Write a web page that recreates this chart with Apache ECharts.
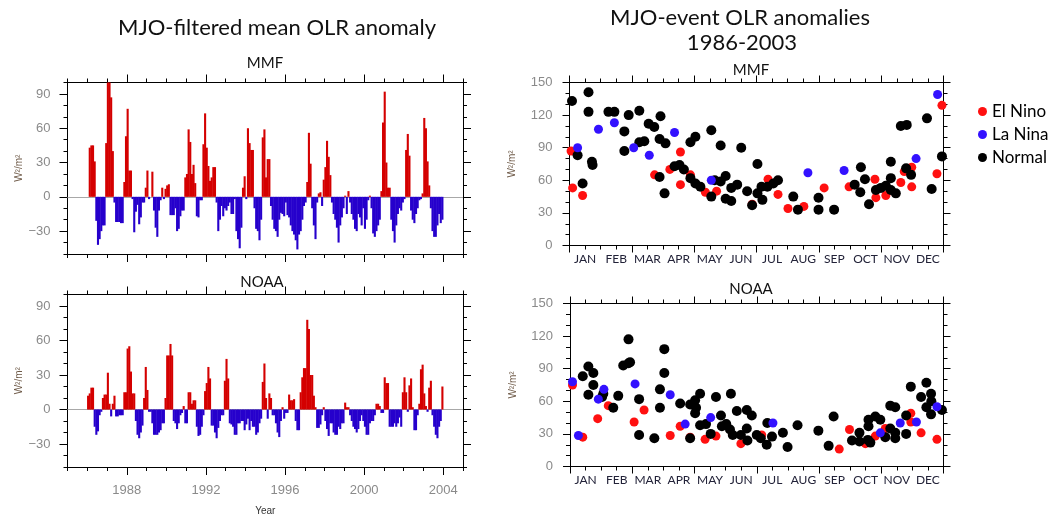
<!DOCTYPE html>
<html><head><meta charset="utf-8">
<script src="https://cdn.jsdelivr.net/npm/echarts@6/dist/echarts.min.js"></script>
<style>html,body{margin:0;padding:0;background:#fff}#c{width:1051px;height:518px}</style>
</head><body><div id="c"></div>
<script>
// ---- data: monthly MJO-filtered mean OLR anomaly, Jan 1986 .. Dec 2003 ----
const mmfMonthly = [
  0, 43, 45, 45, 31, -21, -42, -37, -30, -25, -25, 47,
  100, 100, 87, 40, -5, -22, -22, -22, -23, -23, 13, 53,
  77, 23, 23, -2, -31, -13, -7, -24, -18, -5, -5, 8,
  23, -2, 0, 22, -12, -27, -35, -12, -3, 8, -2, 7,
  10, 11, -16, -16, -16, -10, -30, -28, -17, -12, -12, 17,
  20, 59, 48, 20, 28, 12, -17, -18, -3, -3, 46, 73,
  43, 27, 14, 17, 26, 26, -5, -30, -20, -8, -17, -10,
  -12, -8, -5, -15, -15, -2, -30, -37, -45, -27, 8, 18,
  -2, 60, 47, 41, 41, -10, -28, -30, -38, -20, 52, 59,
  17, 33, 33, -8, -20, -28, -30, -35, -20, -14, -15, -17,
  -5, -16, -18, -25, -30, -33, -38, -46, -33, -30, -20, -8,
  -5, 13, 56, 29, -10, -25, -37, -5, 3, 4, -8, 15,
  26, 49, 35, 19, -5, -15, -20, -27, -40, -25, -18, -10,
  1, -15, 5, -5, -15, -20, -28, -30, -15, -18, -25, -10,
  -28, -20, -3, 1, -10, -32, -35, -30, -25, -20, 5, 65,
  92, 30, 8, 8, -20, -30, -40, -25, -15, -10, -12, -5,
  -2, 41, 55, 36, -12, -20, -23, -15, -10, -3, -2, 3,
  69, 60, 31, 10, -10, -30, -35, -35, -25, -15, -23, -20
];
const noaaMonthly = [
  12, 14, 19, 19, -15, -22, -19, -5, -2, 10, 13, 13,
  32, 5, -6, 5, 12, -6, -6, -5, -5, -5, 15, 15,
  53, 55, 33, 14, 14, -10, -22, -25, -20, -14, 10, 37,
  17, -2, -2, -12, -22, -22, -22, -20, -18, -12, -12, 10,
  47, 47, 57, 47, -10, -12, -17, -12, -5, -3, 3, -12,
  -12, 15, 15, 5, 8, 8, -15, -23, -22, -15, -5, 16,
  23, 37, 27, -14, -14, -20, -25, -16, -10, -5, -5, 25,
  44, 27, -12, -13, -15, -22, -22, -12, -12, -10, -10, -18,
  -13, -8, -18, -10, -15, -15, -22, -20, -12, -8, 24, 40,
  10, -8, 14, 10, -5, -5, -12, -20, -24, -10, 2, -8,
  -3, -3, 13, 8, 8, 9, -10, -18, -18, 15, 28, 36,
  36, 78, 70, 30, 30, 12, 2, -16, -16, -13, -5, 2,
  -10, -17, -23, -12, -12, -20, -22, -22, -15, -17, -12, -12,
  6, 2, 2, -5, -10, -15, -17, -20, -17, -10, -5, -10,
  -15, -22, -22, -12, -10, -10, -5, 5, 5, 3, -3, -3,
  28, 23, 23, -15, -15, -15, -12, -15, -12, -7, -15, 15,
  28, 15, -2, 21, 27, 2, -18, -18, -5, 5, 35, 39,
  14, 3, -2, 19, 25, -5, -15, -22, -25, -15, -10, 20
];
const firstYear = 1986;
const yearTickLabels = [1988, 1992, 1996, 2000, 2004];
const anomTickLabels = [-30, 0, 30, 60, 90];
const monthLabels = ['JAN','FEB','MAR','APR','MAY','JUN','JUL','AUG','SEP','OCT','NOV','DEC'];

// ---- data: MJO events, [month of year (0-12), OLR anomaly] ----
const mmfElNino = [[0.05,87],[0.1,53],[0.42,46],[2.73,65],[3.22,70],[3.56,86],[3.56,56],[3.88,65],[4.36,49],[4.72,50],[5.86,38],[6.37,61],[6.69,47],[7.01,34],[7.52,36],[8.17,53],[8.97,54],[9.8,61],[9.83,44],[10.15,46],[10.63,58],[10.74,68],[10.98,72],[10.98,54],[11.79,66],[11.95,129]];
const mmfLaNina = [[0.26,90],[0.93,107],[1.44,113],[2.06,90],[2.56,83],[3.37,104],[4.55,60],[7.65,67],[8.81,69],[11.12,80],[11.81,139]];
const mmfNormal = [[0.08,133],[0.61,141],[0.61,123],[0.26,83],[0.42,57],[0.72,77],[0.74,74],[1.25,123],[1.44,123],[1.76,105],[1.76,87],[1.9,120],[2.24,124],[2.24,95],[2.4,96],[2.54,112],[2.72,109],[2.92,119],[2.89,98],[3.08,94],[2.89,63],[3.05,48],[3.37,73],[3.53,74],[3.67,70],[3.88,95],[4.04,100],[3.88,62],[4.04,57],[4.2,54],[4.55,106],[4.85,92],[5.51,90],[6.03,75],[5.01,64],[4.85,59],[4.66,60],[4.55,45],[5.01,43],[5.19,41],[5.19,53],[5.38,56],[5.7,50],[5.86,37],[6.03,48],[6.16,54],[6.19,42],[6.35,54],[6.54,57],[6.69,60],[7.18,45],[7.33,33],[7.99,44],[7.99,33],[8.49,33],[9.35,72],[9.48,61],[9.15,56],[9.33,49],[9.61,38],[9.83,51],[9.99,53],[10.15,55],[10.31,62],[10.31,77],[10.31,51],[10.47,48],[10.63,110],[10.82,111],[10.8,71],[10.96,65],[11.47,117],[11.62,52],[11.95,82]];
const noaaElNino = [[0.08,75],[0.41,27],[0.89,44],[1.23,56],[2.06,41],[2.38,52],[3.22,28.5],[3.54,37],[3.86,27],[4.34,25],[4.69,28],[5.49,21],[6.16,29],[8.65,16],[8.98,34],[9.49,21],[9.81,28],[10.13,35],[10.95,49],[10.95,41],[11.28,31],[11.79,25]];
const noaaLaNina = [[0.08,78],[0.27,28.5],[0.91,62],[1.09,71],[2.09,76],[3.22,66],[3.7,39],[4.52,45],[6.52,40],[9.97,31],[10.61,40],[11.13,41],[11.79,55]];
const noaaNormal = [[0.41,83],[0.59,92],[0.59,66],[0.75,86],[0.75,75],[1.07,67],[1.03,64],[1.39,54],[1.55,65],[1.71,93],[1.88,95],[1.88,117],[1.93,96],[2.22,62],[2.22,29],[2.71,26],[2.89,54],[2.89,71],[3.03,108],[3.03,86],[3.54,58],[3.86,26],[4.02,61],[4.02,49],[3.86,57],[4.18,67],[4.18,38],[4.05,54],[4.37,39],[4.52,30],[4.69,64],[4.85,47],[4.88,37],[5.02,39],[5.17,67],[5.14,34],[5.23,29],[5.36,51],[5.49,29],[5.68,52],[5.84,47],[5.68,35],[5.7,24],[6.0,29],[6.13,26],[6.32,20],[6.34,40],[6.49,27.5],[6.84,31],[6.99,18],[7.31,38],[7.98,33],[8.47,46],[8.31,19],[9.06,24],[9.3,31],[9.3,23],[9.59,43],[9.59,37],[9.57,24.5],[9.65,22],[9.81,46],[9.97,43],[10.13,27],[10.29,35],[10.45,31],[10.45,26],[10.29,56],[10.45,54.5],[10.8,47],[10.8,30],[10.95,73.5],[11.28,64],[11.45,77],[11.45,54.5],[11.6,67],[11.61,60],[11.6,48],[11.95,52]];

// ---- styling ----
const TITLE_FONT = 'Lato, "Open Sans", sans-serif';
const NUM_FONT = '"Liberation Sans", Arial, sans-serif';
const BLACK = '#000';
const LABEL_GRAY = '#8a8a8a';
const BAR_RED = '#d40000', BAR_BLUE = '#2600cc';
const DOT_RED = '#ff1010', DOT_BLUE = '#3311ff', DOT_BLACK = '#000';

const grids = [
  {left: 67.5, top: 82.5, width: 395.5, height: 171.5},
  {left: 67.5, top: 294.5, width: 395.5, height: 172.5},
  {left: 569.5, top: 82.5, width: 374, height: 163},
  {left: 570, top: 303.5, width: 373.5, height: 163}
];

const xAxes = [], yAxes = [];
const tickLine = {lineStyle: {color: BLACK, width: 1}};
function addX(o){ xAxes.push(Object.assign({splitLine:{show:false}}, o)); return xAxes.length - 1; }
function addY(o){ yAxes.push(Object.assign({splitLine:{show:false}}, o)); return yAxes.length - 1; }

const leftIdx = [];
[0, 1].forEach(g => {
  const bottomLabels = g === 1;
  const xi = addX({gridIndex: g, type: 'value', min: 1985, max: 2005, interval: 1, position: 'bottom',
    axisLine: {show: true, onZero: false, lineStyle: {color: BLACK, width: 1}},
    axisTick: Object.assign({length: 4}, tickLine),
    axisLabel: {show: bottomLabels, formatter: v => (yearTickLabels.indexOf(v) >= 0 ? String(v) : ''),
      margin: 17, color: LABEL_GRAY, fontSize: 13, fontFamily: NUM_FONT},
    name: bottomLabels ? 'Year' : '', nameLocation: 'middle', nameGap: 39,
    nameTextStyle: {fontSize: 10, color: '#333', fontFamily: NUM_FONT}});
  addX({gridIndex: g, type: 'value', min: 1985, max: 2005, position: 'bottom',
    axisLine: {show: false, onZero: false}, axisTick: Object.assign({length: 8, customValues: yearTickLabels}, tickLine),
    axisLabel: {show: false}});
  addX({gridIndex: g, type: 'value', min: 1985, max: 2005, interval: 1, position: 'top',
    axisLine: {show: true, onZero: false, lineStyle: {color: BLACK, width: 1}},
    axisTick: Object.assign({length: 4}, tickLine), axisLabel: {show: false}});
  addX({gridIndex: g, type: 'value', min: 1985, max: 2005, position: 'top',
    axisLine: {show: false, onZero: false}, axisTick: Object.assign({length: 8, customValues: yearTickLabels}, tickLine),
    axisLabel: {show: false}});
  const yi = addY({gridIndex: g, type: 'value', min: -50, max: 100, interval: 10, position: 'left',
    axisLine: {show: true, onZero: false, lineStyle: {color: BLACK, width: 1}},
    axisTick: Object.assign({length: 4}, tickLine),
    axisLabel: {formatter: v => (anomTickLabels.indexOf(v) >= 0 ? String(v).replace('-', '\u2212') : ''),
      margin: 17, color: LABEL_GRAY, fontSize: 13, fontFamily: NUM_FONT},
    name: 'W\u00b2/m\u00b2', nameLocation: 'middle', nameGap: 38,
    nameTextStyle: {fontSize: 10, color: '#6e5a48', fontFamily: NUM_FONT}});
  addY({gridIndex: g, type: 'value', min: -50, max: 100, position: 'left',
    axisLine: {show: false, onZero: false}, axisTick: Object.assign({length: 8, customValues: anomTickLabels}, tickLine),
    axisLabel: {show: false}});
  addY({gridIndex: g, type: 'value', min: -50, max: 100, interval: 10, position: 'right',
    axisLine: {show: true, onZero: false, lineStyle: {color: BLACK, width: 1}},
    axisTick: Object.assign({length: 4}, tickLine), axisLabel: {show: false}});
  addY({gridIndex: g, type: 'value', min: -50, max: 100, position: 'right',
    axisLine: {show: false, onZero: false}, axisTick: Object.assign({length: 8, customValues: anomTickLabels}, tickLine),
    axisLabel: {show: false}});
  leftIdx.push([xi, yi]);
});

const rightIdx = [];
[2, 3].forEach(g => {
  const xi = addX({gridIndex: g, type: 'value', min: 0, max: 12, interval: 2, position: 'bottom',
    axisLine: {show: true, onZero: false, lineStyle: {color: BLACK, width: 1}},
    axisTick: Object.assign({length: 7}, tickLine),
    minorTick: {show: true, splitNumber: 4, length: 4, lineStyle: {color: BLACK, width: 1}},
    axisLabel: {show: false}});
  addX({gridIndex: g, type: 'category', data: monthLabels, position: 'bottom', boundaryGap: true,
    axisLine: {show: false, onZero: false}, axisTick: {show: false},
    axisLabel: {interval: 0, margin: 8, fontSize: 12, color: '#222238', fontFamily: TITLE_FONT}});
  addX({gridIndex: g, type: 'value', min: 0, max: 12, interval: 2, position: 'top',
    axisLine: {show: true, onZero: false, lineStyle: {color: BLACK, width: 1}},
    axisTick: Object.assign({length: 7}, tickLine),
    minorTick: {show: true, splitNumber: 4, length: 4, lineStyle: {color: BLACK, width: 1}},
    axisLabel: {show: false}});
  const yi = addY({gridIndex: g, type: 'value', min: 0, max: 150, interval: 30, position: 'left',
    axisLine: {show: true, onZero: false, lineStyle: {color: BLACK, width: 1}},
    axisTick: Object.assign({length: 7}, tickLine),
    minorTick: {show: true, splitNumber: 3, length: 4, lineStyle: {color: BLACK, width: 1}},
    axisLabel: {margin: 17, color: LABEL_GRAY, fontSize: 13, fontFamily: NUM_FONT},
    name: 'W\u00b2/m\u00b2', nameLocation: 'middle', nameGap: 52,
    nameTextStyle: {fontSize: 10, color: '#6e5a48', fontFamily: NUM_FONT}});
  addY({gridIndex: g, type: 'value', min: 0, max: 150, interval: 30, position: 'right',
    axisLine: {show: true, onZero: false, lineStyle: {color: BLACK, width: 1}},
    axisTick: Object.assign({length: 7}, tickLine),
    minorTick: {show: true, splitNumber: 3, length: 4, lineStyle: {color: BLACK, width: 1}},
    axisLabel: {show: false}});
  rightIdx.push([xi, yi]);
});

function barSeries(arr, idx){
  return {type: 'bar', xAxisIndex: idx[0], yAxisIndex: idx[1], barWidth: 2.1,
    data: arr.map((v, i) => [firstYear + (i + 0.5) / 12, v]),
    itemStyle: {color: p => (p.value[1] >= 0 ? BAR_RED : BAR_BLUE)},
    markLine: {silent: true, symbol: ['none', 'none'], label: {show: false}, z: 1,
      lineStyle: {color: '#a8a8a8', width: 1, type: 'solid'}, data: [{yAxis: 0}]}};
}
function dotSeries(name, arr, idx, color, size){
  return {type: 'scatter', name: name, xAxisIndex: idx[0], yAxisIndex: idx[1], data: arr,
    symbolSize: size, itemStyle: {color: color, opacity: 1}};
}

const series = [
  barSeries(mmfMonthly, leftIdx[0]),
  barSeries(noaaMonthly, leftIdx[1]),
  dotSeries('El Nino', mmfElNino, rightIdx[0], DOT_RED, 9),
  dotSeries('Normal', mmfNormal, rightIdx[0], DOT_BLACK, 10),
  dotSeries('La Nina', mmfLaNina, rightIdx[0], DOT_BLUE, 9),
  dotSeries('El Nino', noaaElNino, rightIdx[1], DOT_RED, 9),
  dotSeries('Normal', noaaNormal, rightIdx[1], DOT_BLACK, 10),
  dotSeries('La Nina', noaaLaNina, rightIdx[1], DOT_BLUE, 9)
];

function txt(text, x, y, size){
  return {type: 'text', x: x, y: y, silent: true,
    style: {text: text, font: size + 'px ' + TITLE_FONT, fill: '#111',
      align: 'center', verticalAlign: 'middle', textAlign: 'center', textVerticalAlign: 'middle'}};
}

const chart = echarts.init(document.getElementById('c'), null, {renderer: 'canvas'});
chart.setOption({
  animation: false,
  backgroundColor: '#fff',
  textStyle: {fontFamily: NUM_FONT},
  grid: grids,
  xAxis: xAxes,
  yAxis: yAxes,
  legend: {data: ['El Nino', 'La Nina', 'Normal'], orient: 'vertical', left: 973, top: 98,
    itemWidth: 9, itemHeight: 9, itemGap: 6, icon: 'circle',
    textStyle: {fontSize: 17, color: '#000', fontFamily: TITLE_FONT}, selectedMode: false},
  graphic: [
    txt('MJO-filtered mean OLR anomaly', 277, 28, 22),
    txt('MJO-event OLR anomalies', 740, 18, 22),
    txt('1986-2003', 742, 43, 22),
    txt('MMF', 265, 63, 15),
    txt('NOAA', 262, 282, 15),
    txt('MMF', 751, 70, 15),
    txt('NOAA', 751, 289, 15)
  ],
  series: series
});
</script></body></html>
